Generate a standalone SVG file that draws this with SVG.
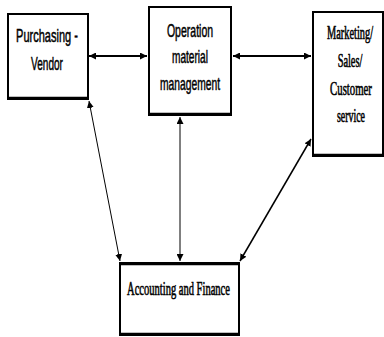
<svg xmlns="http://www.w3.org/2000/svg" width="384" height="337" viewBox="0 0 384 337">
<style>
.box{fill:#fff;stroke:#000;stroke-width:2}
.edge{fill:none;stroke:#000;stroke-width:2.5}
.sans{font-family:"Liberation Sans",Arial,sans-serif;font-size:18px;fill:#000;stroke:#000;stroke-width:0.5;text-anchor:middle}
.serif{font-family:"Liberation Serif","Times New Roman",serif;font-size:18px;fill:#000;stroke:#000;stroke-width:0.6;text-anchor:middle}
.c{fill:none;stroke:#000}
</style>
<defs>
<marker id="ah" viewBox="0 0 10 10" refX="10" refY="5" markerWidth="7" markerHeight="7" markerUnits="userSpaceOnUse" orient="auto-start-reverse">
<path d="M0,0 L10,5 L0,10 z" fill="#000"/>
</marker>
</defs>
<rect width="384" height="337" fill="#fff"/>
<g id="purchasing">
<rect class="box" x="8" y="14" width="80" height="85"/>
<line class="edge" x1="8" y1="98" x2="88" y2="98"/>
<text class="sans" transform="translate(47,42) scale(0.6,1)" textLength="103" lengthAdjust="spacingAndGlyphs">Purchasing -</text>
<text class="sans" transform="translate(47,70) scale(0.6,1)" textLength="53" lengthAdjust="spacingAndGlyphs">Vendor</text>
</g>
<g id="operation">
<rect class="box" x="149" y="7" width="82" height="108"/>
<line class="edge" x1="149" y1="114" x2="231" y2="114"/>
<text class="sans" transform="translate(190,37) scale(0.6,1)" textLength="77" lengthAdjust="spacingAndGlyphs">Operation</text>
<text class="sans" transform="translate(190,63) scale(0.6,1)" textLength="60" lengthAdjust="spacingAndGlyphs">material</text>
<text class="sans" transform="translate(190,90) scale(0.6,1)" textLength="100" lengthAdjust="spacingAndGlyphs">management</text>
</g>
<g id="marketing">
<rect class="box" x="313" y="12" width="70" height="144"/>
<line class="edge" x1="313" y1="155" x2="383" y2="155"/>
<text class="serif" transform="translate(350,39) scale(0.55,1)" textLength="84" lengthAdjust="spacingAndGlyphs">Marketing/</text>
<text class="serif" transform="translate(350,67) scale(0.55,1)" textLength="45" lengthAdjust="spacingAndGlyphs">Sales/</text>
<text class="serif" transform="translate(351,95) scale(0.55,1)" textLength="76" lengthAdjust="spacingAndGlyphs">Customer</text>
<text class="serif" transform="translate(351,122) scale(0.55,1)" textLength="51" lengthAdjust="spacingAndGlyphs">service</text>
</g>
<g id="accounting">
<rect class="box" x="120" y="263" width="119" height="72"/>
<line class="edge" x1="120" y1="264" x2="239" y2="264"/>
<line class="edge" x1="120" y1="334" x2="239" y2="334"/>
<text class="serif" transform="translate(178.5,295) scale(0.55,1)" textLength="187" lengthAdjust="spacingAndGlyphs">Accounting and Finance</text>
</g>
<g id="connectors">
<line class="c" stroke-width="2" x1="89" y1="56" x2="147" y2="56" marker-start="url(#ah)" marker-end="url(#ah)"/>
<line class="c" stroke-width="2" x1="233" y1="56" x2="311" y2="56" marker-start="url(#ah)" marker-end="url(#ah)"/>
<line class="c" stroke-width="1" x1="89" y1="101" x2="120" y2="261" marker-start="url(#ah)" marker-end="url(#ah)"/>
<line class="c" stroke-width="1" x1="180" y1="117" x2="180" y2="261" marker-start="url(#ah)" marker-end="url(#ah)"/>
<line class="c" stroke-width="1.5" x1="311" y1="139" x2="240" y2="261" marker-start="url(#ah)" marker-end="url(#ah)"/>
</g>
</svg>
